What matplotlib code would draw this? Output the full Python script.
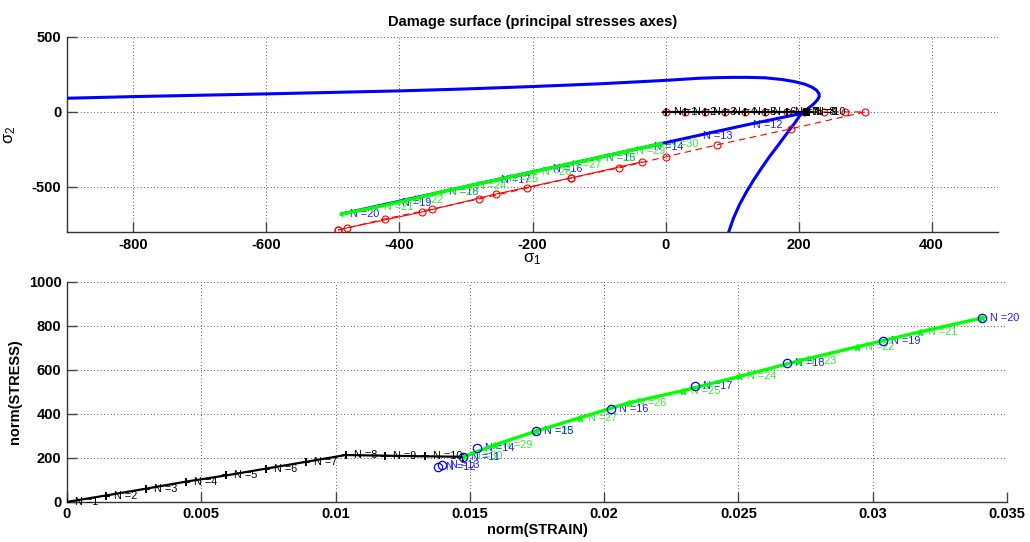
import matplotlib
matplotlib.use('Agg')
import matplotlib.pyplot as plt
from matplotlib.ticker import FixedLocator, FuncFormatter

plt.rcParams['font.family'] = ['Liberation Sans', 'DejaVu Sans']
plt.rcParams['axes.unicode_minus'] = False
plt.rcParams['mathtext.default'] = 'regular'

# ---------------- data ----------------
# damage surface in the principal stress plane
surf_s1 = [-900, -800, -700, -600, -500, -400, -300, -200, -100, 0, 25, 50, 75,
           100, 125, 150, 175, 195, 210, 220, 227, 231, 231, 228, 222, 214, 207,
           201, 195, 188, 178, 168, 156, 145, 133, 122, 111, 102, 95]
surf_s2 = [91, 102, 111, 120, 130, 140, 153, 169, 187, 210, 217, 224, 228,
           230, 230, 227, 216, 201, 184, 165, 145, 120, 100, 78, 50, 22, 0,
           -30, -70, -110, -170, -230, -300, -370, -450, -530, -620, -710, -800]

# load steps N=1..10 (black), N=11..20 (blue), N=20..30 (green)
black_steps = [1, 2, 3, 4, 5, 6, 7, 8, 9, 10, 11]
black_s1 = [0, 30, 60, 90, 120, 150, 183, 208, 211, 214, 216]
black_s2 = [0, 0, 0, 0, 0, 0, 0, 0, 0, 0, 0]
black_strain = [0, 0.00145, 0.00294, 0.00443, 0.00591, 0.00740, 0.00890,
                0.01038, 0.01184, 0.01333, 0.01476]
black_stress = [0, 29, 60, 92, 120, 151, 182, 213, 210, 207, 205]

blue_steps = [11, 12, 13, 14, 15, 16, 17, 18, 19, 20]
blue_s1 = [216, 120, 45, -30, -102, -181, -259, -337, -409, -487]
blue_s2 = [0, -88, -161, -234, -305, -381, -457, -533, -604, -680]
blue_strain = [0.01476, 0.01382, 0.01397, 0.01525, 0.01748, 0.02024, 0.02340,
               0.02682, 0.03040, 0.03408]
blue_stress = [205, 157, 166, 245, 323, 423, 527, 632, 732, 836]

green_steps = [20, 21, 22, 23, 24, 25, 26, 27, 28, 29, 30]
green_s1 = [-487, -435, -390, -337, -295, -247, -198, -153, -102, -57, -7]
green_s2 = [-680, -634, -590, -533, -492, -446, -398, -354, -305, -260, -212]
green_strain = [0.03408, 0.03178, 0.02943, 0.02725, 0.02504, 0.02292, 0.02091,
                0.01909, 0.01748, 0.01593, 0.01481]
green_stress = [836, 773, 705, 641, 570, 505, 450, 382, 322, 259, 207]

# trial stresses (red)
trial_s1 = [0, 29, 59, 90, 120, 150, 183, 208, 238, 270, 300, 188, 77, 0, -70,
            -142, -208, -280, -351, -422, -492]
trial_s2 = [0, 0, 0, 0, 0, 0, 0, 0, 0, 0, 0, -113, -220, -300, -373, -440, -507,
            -580, -647, -713, -787]
return_s1 = [-492, -479, -366, -255, -142, -36]
return_s2 = [-787, -773, -667, -547, -440, -333]

s1_ticks = [-800, -600, -400, -200, 0, 200, 400]
s2_ticks = [-500, 0, 500]
strain_ticks = [0, 0.005, 0.01, 0.015, 0.02, 0.025, 0.03, 0.035]
stress_ticks = [0, 200, 400, 600, 800, 1000]

BLUE = '#0000ff'
BLUE_TXT = '#2020ff'
GREEN = '#00ff00'
GREEN_TXT = '#33ee33'
RED = '#ff0000'

fig = plt.figure(figsize=(10.30, 5.42), dpi=100)
ax1 = fig.add_axes([0.065, 0.572, 0.904, 0.360])
ax2 = fig.add_axes([0.065, 0.074, 0.9126, 0.406])


def style_axes(ax, xt, yt):
    ax.xaxis.set_major_locator(FixedLocator(xt))
    ax.yaxis.set_major_locator(FixedLocator(yt))
    ax.xaxis.set_major_formatter(FuncFormatter(lambda v, p: '%g' % v))
    ax.yaxis.set_major_formatter(FuncFormatter(lambda v, p: '%g' % v))
    ax.grid(True, color='#222222', linestyle=(0, (1, 3)), linewidth=0.6)
    ax.set_axisbelow(True)
    for s in ('top', 'right'):
        ax.spines[s].set_visible(False)
    for s in ('left', 'bottom'):
        ax.spines[s].set_color('#333333')
        ax.spines[s].set_linewidth(1.0)
    ax.tick_params(direction='in', length=7, width=1, color='#444444',
                   labelsize=10.5, pad=4)
    for lab in ax.get_xticklabels() + ax.get_yticklabels():
        lab.set_fontweight('bold')


def label_points(ax, xs, ys, steps, color, start=0):
    for x, y, n in list(zip(xs, ys, steps))[start:]:
        ax.annotate('N =%d' % n, (x, y), xytext=(8, 0), textcoords='offset pixels',
                    color=color, fontsize=7.8, va='center', ha='left',
                    annotation_clip=False)


# ---------------- principal stress plane ----------------
ax1.plot(surf_s1, surf_s2, color=BLUE, lw=2.2, zorder=3)
ax1.plot(trial_s1, trial_s2, color=RED, lw=0.8, ls=(0, (6, 4)), marker='o', ms=5,
         mfc='none', mec=RED, mew=0.8, zorder=3)
ax1.plot(return_s1, return_s2, color=RED, lw=0.8, marker='o', ms=5,
         mfc='none', mec=RED, mew=0.8, zorder=3)
ax1.plot(blue_s1, blue_s2, color=BLUE, lw=2.2, zorder=4)
ax1.plot(green_s1, green_s2, color=GREEN, lw=2.4, marker='+', ms=4, mew=1,
         zorder=5)
label_points(ax1, blue_s1, blue_s2, blue_steps, BLUE_TXT, start=1)
label_points(ax1, green_s1, green_s2, green_steps, GREEN_TXT, start=1)
ax1.plot(black_s1, black_s2, color='black', lw=1.6, marker='+', ms=6, mew=1.4,
         zorder=6)
label_points(ax1, black_s1[:10], black_s2[:10], black_steps[:10], 'black')

ax1.set_xlim(-900, 500)
ax1.set_ylim(-800, 500)
style_axes(ax1, s1_ticks, s2_ticks)
ax1.set_title('Damage surface (principal stresses axes)', fontsize=10.5,
              fontweight='bold', pad=8)
ax1.set_xlabel(r'$\sigma_1$', fontsize=12, labelpad=0)
ax1.set_ylabel(r'$\sigma_2$', fontsize=12, labelpad=10)

# ---------------- stress / strain norms ----------------
ax2.plot(black_strain, black_stress, color='black', lw=1.6, marker='+', ms=6,
         mew=1.4, zorder=4)
label_points(ax2, black_strain[:10], black_stress[:10], black_steps[:10], 'black')
ax2.plot(green_strain, green_stress, color=GREEN, lw=2.4, marker='*', ms=5,
         zorder=5)
ax2.plot(blue_strain, blue_stress, ls='none', marker='o', ms=6, mfc='none',
         mec=BLUE, mew=0.9, zorder=6)
label_points(ax2, green_strain, green_stress, green_steps, GREEN_TXT, start=1)
label_points(ax2, blue_strain, blue_stress, blue_steps, BLUE_TXT)

ax2.set_xlim(0, 0.035)
ax2.set_ylim(0, 1000)
style_axes(ax2, strain_ticks, stress_ticks)
ax2.set_xlabel('norm(STRAIN)', fontsize=10.5, fontweight='bold', labelpad=1)
ax2.set_ylabel('norm(STRESS)', fontsize=10.5, fontweight='bold', labelpad=5)

fig.savefig('out.png', dpi=100)
